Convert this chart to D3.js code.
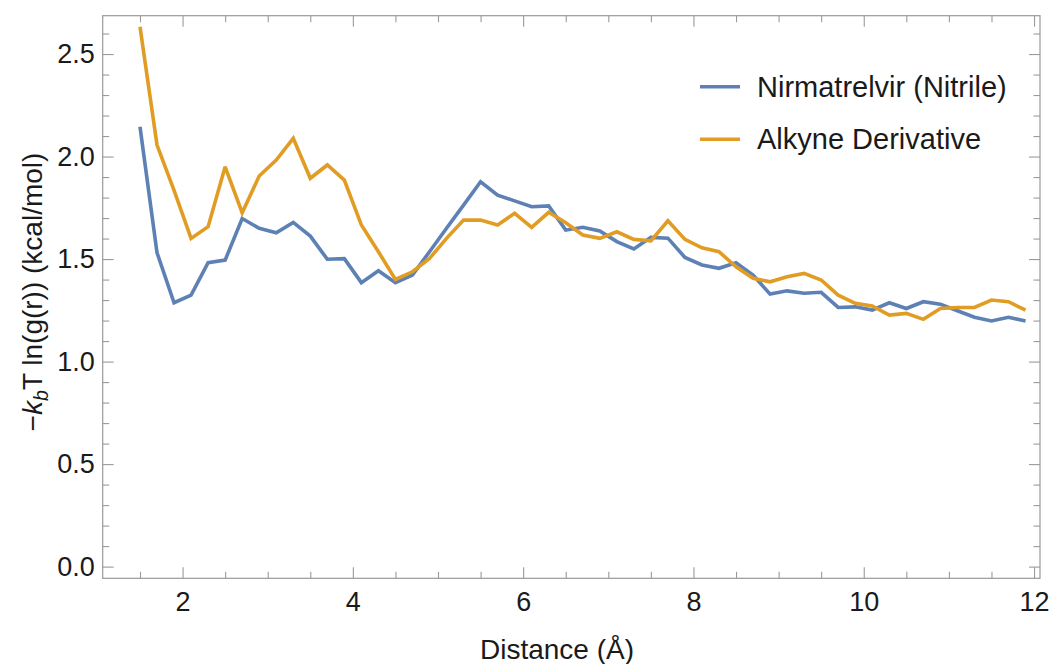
<!DOCTYPE html>
<html>
<head>
<meta charset="utf-8">
<script src="https://cdn.jsdelivr.net/npm/d3@7"></script>
<style>
  html, body { margin: 0; padding: 0; background: #fff; }
  svg text { font-family: "Liberation Sans", Arial, Helvetica, sans-serif; fill: #1a1a1a; }
</style>
</head>
<body>
<svg id="chart" width="1049" height="664"></svg>
<script>
const distance = [1.5, 1.7, 1.9, 2.1, 2.3, 2.5, 2.7, 2.9, 3.1, 3.3, 3.5, 3.7, 3.9, 4.1, 4.3, 4.5, 4.7, 4.9,
  5.1, 5.3, 5.5, 5.7, 5.9, 6.1, 6.3, 6.5, 6.7, 6.9, 7.1, 7.3, 7.5, 7.7, 7.9, 8.1, 8.3, 8.5, 8.7, 8.9,
  9.1, 9.3, 9.5, 9.7, 9.9, 10.1, 10.3, 10.5, 10.7, 10.9, 11.1, 11.3, 11.5, 11.7, 11.9];

const nirmatrelvir = [2.145, 1.531, 1.287, 1.324, 1.482, 1.495, 1.698, 1.650, 1.628, 1.679, 1.612, 1.499,
  1.502, 1.385, 1.443, 1.385, 1.422, 1.536, 1.650, 1.763, 1.877, 1.812, 1.784, 1.755, 1.759, 1.641,
  1.655, 1.637, 1.585, 1.549, 1.606, 1.602, 1.508, 1.471, 1.455, 1.482, 1.422, 1.329, 1.345, 1.333,
  1.338, 1.264, 1.267, 1.251, 1.287, 1.259, 1.292, 1.280, 1.248, 1.216, 1.198, 1.216, 1.198];

const alkyne = [2.633, 2.056, 1.835, 1.601, 1.658, 1.950, 1.726, 1.905, 1.983, 2.089, 1.894, 1.959,
  1.885, 1.666, 1.536, 1.401, 1.438, 1.503, 1.601, 1.690, 1.690, 1.666, 1.723, 1.655, 1.728, 1.677,
  1.617, 1.601, 1.633, 1.596, 1.589, 1.687, 1.596, 1.555, 1.536, 1.462, 1.406, 1.389, 1.414, 1.430,
  1.398, 1.324, 1.284, 1.271, 1.227, 1.235, 1.206, 1.259, 1.264, 1.264, 1.300, 1.292, 1.251];

const seriesNames = ["Nirmatrelvir (Nitrile)", "Alkyne Derivative"];
const seriesColors = ["#5E81B5", "#E19C24"];

const xMajorTicks = [2, 4, 6, 8, 10, 12];
const xMinorTicks = [1.5, 2.5, 3, 3.5, 4.5, 5, 5.5, 6.5, 7, 7.5, 8.5, 9, 9.5, 10.5, 11, 11.5];
const yMajorTicks = [0.0, 0.5, 1.0, 1.5, 2.0, 2.5];
const yMinorTicks = [0.1, 0.2, 0.3, 0.4, 0.6, 0.7, 0.8, 0.9, 1.1, 1.2, 1.3, 1.4, 1.6, 1.7, 1.8, 1.9,
  2.1, 2.2, 2.3, 2.4, 2.6];

const L = 102.7, R = 1040, T = 15.7, B = 578.3;
const svg = d3.select("#chart");
const x = d3.scaleLinear().domain([1.062, 12.07]).range([L, R]);
const y = d3.scaleLinear().domain([-0.057, 2.687]).range([B, T]);

const frameColor = "#9a9a9a";
const FONT = 27, LEG_FONT = 29, TITLE_FONT = 28;
const MAJ = 11, MIN = 6.5;

// Frame
svg.append("rect").attr("x", L).attr("y", T).attr("width", R - L).attr("height", B - T)
  .attr("fill", "none").attr("stroke", frameColor).attr("stroke-width", 1.2);

function styleAxis(g) {
  g.select(".domain").remove();
  g.selectAll(".tick line").attr("stroke", frameColor).attr("stroke-width", 1.1);
  g.selectAll(".tick text").attr("font-size", FONT).attr("fill", "#1a1a1a")
    .attr("font-family", "Liberation Sans, Arial, sans-serif");
}

// Bottom axis
svg.append("g").attr("transform", `translate(0,${B})`)
  .call(d3.axisBottom(x).tickValues(xMajorTicks).tickSize(-MAJ).tickPadding(14).tickFormat(d3.format("d")))
  .call(styleAxis);
svg.append("g").attr("transform", `translate(0,${B})`)
  .call(d3.axisBottom(x).tickValues(xMinorTicks).tickSize(-MIN).tickFormat(""))
  .call(styleAxis);
// Top axis (mirror)
svg.append("g").attr("transform", `translate(0,${T})`)
  .call(d3.axisTop(x).tickValues(xMajorTicks).tickSize(-MAJ).tickFormat(""))
  .call(styleAxis);
svg.append("g").attr("transform", `translate(0,${T})`)
  .call(d3.axisTop(x).tickValues(xMinorTicks).tickSize(-MIN).tickFormat(""))
  .call(styleAxis);
// Left axis
svg.append("g").attr("transform", `translate(${L},0)`)
  .call(d3.axisLeft(y).tickValues(yMajorTicks).tickSize(-MAJ).tickPadding(8).tickFormat(d3.format(".1f")))
  .call(styleAxis);
svg.append("g").attr("transform", `translate(${L},0)`)
  .call(d3.axisLeft(y).tickValues(yMinorTicks).tickSize(-MIN).tickFormat(""))
  .call(styleAxis);
// Right axis (mirror)
svg.append("g").attr("transform", `translate(${R},0)`)
  .call(d3.axisRight(y).tickValues(yMajorTicks).tickSize(-MAJ).tickFormat(""))
  .call(styleAxis);
svg.append("g").attr("transform", `translate(${R},0)`)
  .call(d3.axisRight(y).tickValues(yMinorTicks).tickSize(-MIN).tickFormat(""))
  .call(styleAxis);

// Lines
const allSeries = [nirmatrelvir, alkyne];
const line = d3.line().x((d, i) => x(distance[i])).y(d => y(d));
allSeries.forEach((s, k) => {
  svg.append("path").datum(s).attr("d", line)
    .attr("fill", "none").attr("stroke", seriesColors[k]).attr("stroke-width", 3.6)
    .attr("stroke-linejoin", "miter").attr("stroke-miterlimit", 3);
});

// Legend
const legY = [86.7, 139.3];
seriesNames.forEach((name, k) => {
  svg.append("line").attr("x1", 700).attr("x2", 740).attr("y1", legY[k]).attr("y2", legY[k])
    .attr("stroke", seriesColors[k]).attr("stroke-width", 3.6);
  svg.append("text").attr("x", 757).attr("y", legY[k] + 10).attr("font-size", LEG_FONT).text(name);
});

// Axis titles
svg.append("text").attr("x", 557).attr("y", 659).attr("text-anchor", "middle")
  .attr("font-size", TITLE_FONT).text("Distance (Å)");

const yt = svg.append("text").attr("transform", "translate(42,292) rotate(-90)")
  .attr("text-anchor", "middle").attr("font-size", TITLE_FONT);
yt.append("tspan").text("−");
yt.append("tspan").attr("font-style", "italic").text("k");
yt.append("tspan").attr("font-style", "italic").attr("font-size", TITLE_FONT * 0.7).attr("dy", 6).text("b");
yt.append("tspan").attr("dy", -6).text("T ln(g(r)) (kcal/mol)");
</script>
</body>
</html>
